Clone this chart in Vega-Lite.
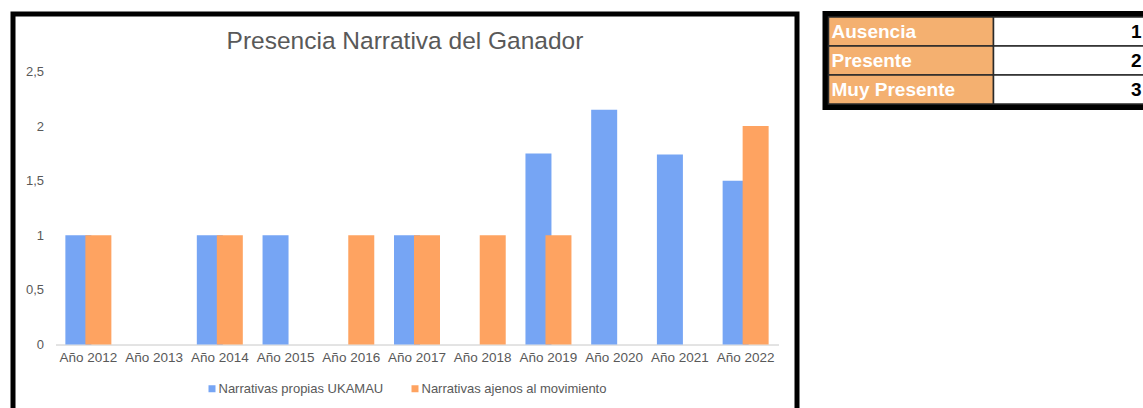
{
  "$schema": "https://vega.github.io/schema/vega-lite/v6.json",
  "padding": {"left": 10, "top": 11, "right": 0, "bottom": 0},
  "background": "white",
  "config": {
    "font": "Liberation Sans",
    "view": {"stroke": "black", "strokeWidth": 5}
  },
  "datasets": {
    "barras": [
      {"anio": "Año 2012", "serie": "Narrativas propias UKAMAU", "valor": 1},
      {"anio": "Año 2012", "serie": "Narrativas ajenos al movimiento", "valor": 1},
      {"anio": "Año 2014", "serie": "Narrativas propias UKAMAU", "valor": 1},
      {"anio": "Año 2014", "serie": "Narrativas ajenos al movimiento", "valor": 1},
      {"anio": "Año 2015", "serie": "Narrativas propias UKAMAU", "valor": 1},
      {"anio": "Año 2016", "serie": "Narrativas ajenos al movimiento", "valor": 1},
      {"anio": "Año 2017", "serie": "Narrativas propias UKAMAU", "valor": 1},
      {"anio": "Año 2017", "serie": "Narrativas ajenos al movimiento", "valor": 1},
      {"anio": "Año 2018", "serie": "Narrativas ajenos al movimiento", "valor": 1},
      {"anio": "Año 2019", "serie": "Narrativas propias UKAMAU", "valor": 1.75},
      {"anio": "Año 2019", "serie": "Narrativas ajenos al movimiento", "valor": 1},
      {"anio": "Año 2020", "serie": "Narrativas propias UKAMAU", "valor": 2.15},
      {"anio": "Año 2021", "serie": "Narrativas propias UKAMAU", "valor": 1.74},
      {"anio": "Año 2022", "serie": "Narrativas propias UKAMAU", "valor": 1.5},
      {"anio": "Año 2022", "serie": "Narrativas ajenos al movimiento", "valor": 2}
    ],
    "rejilla": [{"v": 0.5}, {"v": 1}, {"v": 1.5}, {"v": 2}, {"v": 2.5}],
    "escala": [
      {"nivel": "Ausencia", "valor": 1},
      {"nivel": "Presente", "valor": 2},
      {"nivel": "Muy Presente", "valor": 3}
    ]
  },
  "hconcat": [
    {
      "width": 784,
      "height": 400,
      "title": {
        "text": "Presencia Narrativa del Ganador",
        "fontSize": 24.5,
        "fontWeight": "normal",
        "color": "#595959",
        "anchor": "middle",
        "offset": -40
      },
      "layer": [
        {
          "data": {"name": "rejilla"},
          "mark": {"type": "rule", "color": "#eeeeee", "strokeWidth": 1},
          "encoding": {
            "y": {"field": "v", "type": "quantitative"},
            "x": {"datum": "Año 2012", "type": "nominal", "bandPosition": 0},
            "x2": {"datum": "Año 2022", "bandPosition": 1}
          }
        },
        {
          "data": {"name": "barras"},
          "transform": [{"filter": "datum.serie === 'Narrativas propias UKAMAU'"}],
          "mark": {"type": "bar", "width": 26, "xOffset": -10},
          "encoding": {
            "x": {"field": "anio", "type": "nominal"},
            "y": {"field": "valor", "type": "quantitative"},
            "color": {"field": "serie", "type": "nominal"}
          }
        },
        {
          "data": {"name": "barras"},
          "transform": [{"filter": "datum.serie === 'Narrativas ajenos al movimiento'"}],
          "mark": {"type": "bar", "width": 26, "xOffset": 10},
          "encoding": {
            "x": {"field": "anio", "type": "nominal"},
            "y": {"field": "valor", "type": "quantitative"},
            "color": {"field": "serie", "type": "nominal"}
          }
        }
      ],
      "encoding": {
        "x": {
          "field": "anio",
          "type": "nominal",
          "title": null,
          "scale": {
            "domain": ["Año 2012", "Año 2013", "Año 2014", "Año 2015", "Año 2016", "Año 2017", "Año 2018", "Año 2019", "Año 2020", "Año 2021", "Año 2022"],
            "range": [42.5, 765.5],
            "paddingInner": 0,
            "paddingOuter": 0
          },
          "axis": {
            "orient": "bottom",
            "offset": -69.5,
            "labelAngle": 0,
            "labelFontSize": 13.5,
            "labelColor": "#595959",
            "labelPadding": 6,
            "ticks": false,
            "domainColor": "#c8c8c8",
            "domainWidth": 1,
            "grid": false
          }
        },
        "y": {
          "field": "valor",
          "type": "quantitative",
          "title": null,
          "scale": {"domain": [0, 2.5], "range": [330.5, 57.5], "nice": false, "zero": true},
          "axis": {
            "orient": "left",
            "offset": -42.5,
            "values": [0, 0.5, 1, 1.5, 2, 2.5],
            "format": "~g",
            "labelExpr": "replace(datum.label, '.', ',')",
            "labelFontSize": 13,
            "labelColor": "#595959",
            "labelPadding": 12,
            "ticks": false,
            "domain": false,
            "grid": false
          }
        },
        "color": {
          "field": "serie",
          "type": "nominal",
          "scale": {
            "domain": ["Narrativas propias UKAMAU", "Narrativas ajenos al movimiento"],
            "range": ["#76a5f4", "#fea361"]
          },
          "legend": {
            "orient": "none",
            "legendX": 192.5,
            "legendY": 368,
            "direction": "horizontal",
            "title": null,
            "symbolType": "square",
            "symbolSize": 49,
            "symbolStrokeWidth": 0,
            "labelFontSize": 13,
            "labelColor": "#595959",
            "labelOffset": 0,
            "labelLimit": 400,
            "columnPadding": 25
          }
        }
      }
    },
    {
      "width": 336,
      "height": 93,
      "view": {"stroke": "black", "strokeWidth": 6},
      "data": {"name": "escala"},
      "encoding": {
        "y": {
          "field": "nivel",
          "type": "nominal",
          "sort": null,
          "scale": {"range": [3, 90], "paddingInner": 0, "paddingOuter": 0},
          "axis": null
        }
      },
      "layer": [
        {
          "mark": {"type": "rect", "fill": "#f4b070", "stroke": "#2a2a2a", "strokeWidth": 1.5},
          "encoding": {
            "x": {
              "datum": "Nivel",
              "type": "nominal",
              "scale": {"domain": ["Nivel", "Valor"], "range": [3, 333], "paddingInner": 0, "paddingOuter": 0},
              "axis": null
            }
          }
        },
        {
          "mark": {"type": "rect", "fill": "white", "stroke": "#2a2a2a", "strokeWidth": 1.5},
          "encoding": {"x": {"datum": "Valor", "type": "nominal"}}
        },
        {
          "mark": {"type": "text", "align": "left", "baseline": "middle", "dx": 3, "fontSize": 19, "fontWeight": "bold", "fill": "white"},
          "encoding": {
            "x": {"datum": "Nivel", "type": "nominal", "bandPosition": 0},
            "text": {"field": "nivel"}
          }
        },
        {
          "mark": {"type": "text", "align": "right", "baseline": "middle", "dx": -17, "fontSize": 19, "fontWeight": "bold", "fill": "black"},
          "encoding": {
            "x": {"datum": "Valor", "type": "nominal", "bandPosition": 1},
            "text": {"field": "valor", "type": "quantitative"}
          }
        }
      ]
    }
  ],
  "spacing": 28.5,
  "bounds": "flush"
}
